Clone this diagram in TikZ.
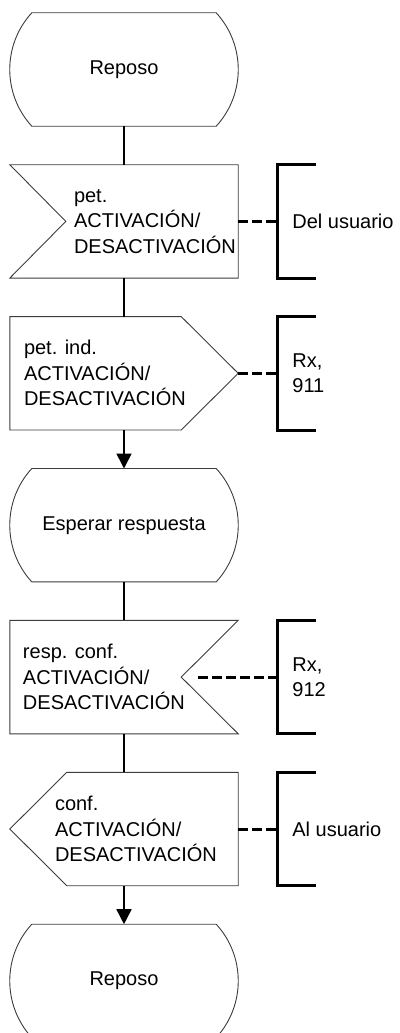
\documentclass[tikz,border=0pt]{standalone}
\usepackage{fontspec}
\setmainfont{Liberation Sans}
\usetikzlibrary{positioning,calc,arrows.meta}
\definecolor{linecolor}{RGB}{60,60,60}

\begin{document}
\begin{tikzpicture}[x=1pt,y=1pt,
  font=\fontsize{20}{25.5}\selectfont,
  shp/.style={minimum width=228pt,minimum height=113pt,inner sep=0pt},
  txt/.style={inner sep=0pt,align=left},
  outl/.style={draw=linecolor,line width=0.9pt},
  flow/.style={line width=1.6pt},
  brk/.style={shp,minimum width=0pt,inner xsep=15pt,align=left},
  brkline/.style={line width=3pt},
  dsh/.style={line width=3pt,dash pattern=on 10pt off 4pt}]
\useasboundingbox (0,0) rectangle (399,-1033);

\node[shp] (s1) at (124,-69.5) {Reposo};
\node[shp,below=38.5pt of s1] (in1) {};
\node[shp,below=38.5pt of in1] (in2) {};
\node[shp,below=38.5pt of in2] (s2) {Esperar respuesta};
\node[shp,below=38.5pt of s2] (in3) {};
\node[shp,below=38.5pt of in3] (out1) {};
\node[shp,below=38.5pt of out1] (s3) {Reposo};

\node[txt,right=64pt of in1.west] (t1) {pet.\\ACTIVACIÓN/\\DESACTIVACIÓN};
\node[txt,right=14pt of in2.west] (t2) {pet. ind.\\ACTIVACIÓN/\\DESACTIVACIÓN};
\node[txt,right=13pt of in3.west] (t3) {resp. conf.\\ACTIVACIÓN/\\DESACTIVACIÓN};
\node[txt,right=45pt of out1.west] (t4) {conf.\\ACTIVACIÓN/\\DESACTIVACIÓN};

\node[brk,right=39pt of in1] (b1) {Del usuario};
\node[brk,right=39pt of in2] (b2) {Rx,\\911};
\node[brk,right=39pt of in3] (b3) {Rx,\\912};
\node[brk,right=39pt of out1] (b4) {Al usuario};
\coordinate[left=40pt of in3.east] (n3);

\foreach \s in {s1,s2,s3}
  \draw[outl] ($(\s.south west)+(22,0)$) .. controls +(-29.4,32) and +(-29.4,-32) .. ($(\s.north west)+(22,0)$)
    -- ($(\s.north east)+(-22,0)$) .. controls +(29.4,-32) and +(29.4,32) .. ($(\s.south east)+(-22,0)$) -- cycle;
\draw[outl] (in1.north west) -- (in1.north east) -- (in1.south east) -- (in1.south west) -- ($(in1.west)+(56,0)$) -- cycle;
\draw[outl] (in2.north west) -- ($(in2.north east)+(-57,0)$) -- (in2.east) -- ($(in2.south east)+(-57,0)$) -- (in2.south west) -- cycle;
\draw[outl] (in3.north west) -- (in3.north east) -- ($(in3.east)+(-57,0)$) -- (in3.south east) -- (in3.south west) -- cycle;
\draw[outl] ($(out1.north west)+(57,0)$) -- (out1.north east) -- (out1.south east) -- ($(out1.south west)+(57,0)$) -- (out1.west) -- cycle;

\foreach \b in {b1,b2,b3,b4}
  \draw[brkline] ($(\b.north west)+(39,0)$) -- (\b.north west) -- (\b.south west) -- ($(\b.south west)+(39,0)$);

\draw[flow] (s1) -- (in1);
\draw[flow] (in1) -- (in2);
\draw[flow,-{Triangle[length=15pt,width=15pt]}] (in2) -- (s2);
\draw[flow] (s2) -- (in3);
\draw[flow] (in3) -- (out1);
\draw[flow,-{Triangle[length=15pt,width=15pt]}] (out1) -- (s3);

\draw[dsh] (in1) -- (b1);
\draw[dsh] (in2) -- (b2);
\draw[dsh] (n3) -- (b3);
\draw[dsh] (out1) -- (b4);
\end{tikzpicture}
\end{document}
